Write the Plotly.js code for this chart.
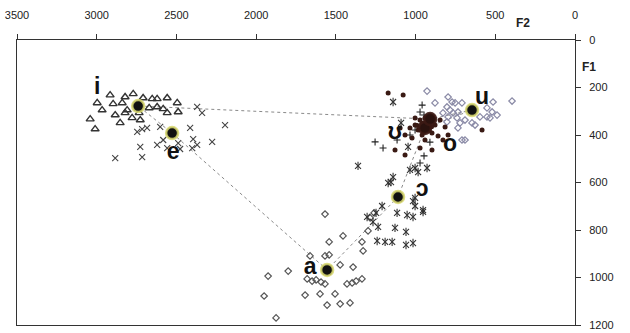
<!DOCTYPE html>
<html>
<head>
<meta charset="utf-8">
<script src="https://cdn.plot.ly/plotly-3.0.1.min.js"></script>
<style>html,body{margin:0;padding:0;background:#fff;}#chart{width:630px;height:333px;}</style>
</head>
<body>
<div id="chart"></div>
<script>
// ---- Data (F2 in Hz on x, F1 in Hz on y) ----
var iF2 = [2916,2822,2771,2997,2897,2840,2966,2884,2822,3041,3010,2853,2778,2709,2652,2621,2558,2671,2583,2495,2489,2727,2734,2621,2558,2809];
var iF1 = [232,240,227,265,269,265,295,316,307,333,375,349,328,244,248,248,244,286,290,265,303,337,307,282,307,295];

var eF2 = [2370,2339,2195,2414,2602,2715,2684,2727,2884,2715,2621,2583,2489,2395,2370,2401,2276,2746,2558,2477];
var eF1 = [282,307,358,370,366,375,370,450,497,493,442,421,434,417,442,455,429,387,455,459];

var aF2 = [1568,1542,1455,1662,1568,1542,1473,1392,1336,1298,1329,1925,1799,1680,1649,1624,1593,1568,1430,1398,1373,1336,1950,1693,1599,1505,1555,1473,1411,1875,1285,1260];
var aF1 = [733,850,825,909,909,905,947,956,850,804,888,994,973,1006,1015,1010,1019,1027,1027,1023,1015,1006,1078,1074,1069,1069,1116,1111,1107,1170,749,728];

var oOpenF2 = [1154,1210,1304,1248,1267,1235,1116,1053,1016,953,1003,1016,1129,1060,1241,1191,1147,1060,1016,1003,928,984,1141,1172,1003,953,1361,1035,1141,1091,1047];
var oOpenF1 = [598,699,745,728,766,787,728,737,745,724,699,678,791,808,846,850,850,863,855,539,539,556,577,602,665,716,530,547,261,349,450];

var upsF2 = [1254,1204,959,972,947,947,972,1003,1035,1116,910];
var upsF1 = [429,455,274,303,316,488,518,379,400,421,430];

var oF2 = [1003,972,941,909,878,922,984,1035,846,815,959,897,859,1022,1066,941,796,828,1097,1003,972,897,1129,1066,1172,1078,583,960,930,900,950,990,915];
var oF1 = [358,337,328,345,358,370,379,370,337,366,400,392,404,413,400,421,400,421,370,328,455,463,463,484,223,232,379,350,355,365,385,360,380];

var uF2 = [928,878,796,771,752,709,803,784,765,734,740,721,690,646,627,514,395,552,520,489,552,533,596,734,796,828,803,690,709];
var uF1 = [215,265,240,261,265,265,282,295,307,303,328,349,337,349,358,261,257,286,303,316,324,328,324,370,324,307,345,421,421];

// vowel means
var meanVowels = ['i','e','a','ɔ','o','u','ʊ'];
var meanF2 = [2740,2527,1555,1110,941,646,909];
var meanF1 = [278,392,968,661,370,295,333];

// connecting path (by vowel)
var pathOrder = ['ʊ','i','e','a','ɔ','o','u','ʊ'];

// vowel labels
var labelText = ['i','e','a','ɔ','ʊ','o','u'];
var labelF2 = [2997,2521,1662,959,1129,784,583];
var labelF1 = [202,476,960,632,392,442,244];

// ---- Build ----
var pathF2 = pathOrder.map(function(v){return meanF2[meanVowels.indexOf(v)];});
var pathF1 = pathOrder.map(function(v){return meanF1[meanVowels.indexOf(v)];});
var haloColors = meanVowels.map(function(v){
  return (v==='o'||v==='ʊ') ? 'rgba(60,25,20,0.9)' : 'rgba(215,215,110,0.85)';
});
var meanColors = meanVowels.map(function(v){ return (v==='o'||v==='ʊ') ? '#2a120e' : '#111'; });

function sc(x,y,sym,size,color,w){
  return {type:'scatter',mode:'markers',x:x,y:y,hoverinfo:'skip',
    marker:{symbol:sym,size:size,color:color,line:{color:color,width:w}}};
}
var traces = [
  {type:'scatter',mode:'lines',x:pathF2,y:pathF1,line:{color:'#8a8a8a',width:1,dash:'dot'},hoverinfo:'skip'},
  sc(iF2,iF1,'triangle-up-open',7,'#333',1.4),
  sc(eF2,eF1,'x-thin-open',6,'#444',1.1),
  sc(aF2,aF1,'diamond-open',5,'#555',1.2),
  // star marker = x + vertical bar
  sc(oOpenF2,oOpenF1,'x-thin-open',6,'#333',1.1),
  sc(oOpenF2,oOpenF1,'line-ns-open',6,'#333',1.1),
  sc(uF2,uF1,'diamond-open',5,'#8a8aa6',1.2),
  sc(upsF2,upsF1,'cross-thin-open',5,'#222',1.1),
  {type:'scatter',mode:'markers',x:oF2,y:oF1,hoverinfo:'skip',marker:{symbol:'circle',size:5,color:'#3a1a14'}},
  {type:'scatter',mode:'markers',x:meanF2,y:meanF1,hoverinfo:'skip',
    marker:{symbol:'circle',size:12,color:meanColors,line:{color:haloColors,width:2.5}}},
  {type:'scatter',mode:'text',x:labelF2,y:labelF1,text:labelText,hoverinfo:'skip',
    textfont:{family:'Liberation Sans, Arial, DejaVu Sans',size:23,color:'#111',weight:'bold'}}
];

var axFont = {family:'Liberation Sans, Arial, sans-serif',size:11,color:'#222'};
var layout = {
  width:630,height:333,
  margin:{l:17,r:55,t:40,b:8},
  paper_bgcolor:'#fff',plot_bgcolor:'#fff',
  showlegend:false,
  xaxis:{range:[3500,0],side:'top',dtick:500,tick0:0,ticks:'outside',ticklen:5,tickcolor:'#333',
    showline:true,linecolor:'#333',linewidth:1,mirror:true,showgrid:false,zeroline:false,
    tickfont:axFont,ticklabelstandoff:11},
  yaxis:{range:[1200,0],side:'right',dtick:200,tick0:0,ticks:'outside',ticklen:5,tickcolor:'#333',
    showline:true,linecolor:'#333',linewidth:1,mirror:true,showgrid:false,zeroline:false,
    tickfont:axFont,ticklabelstandoff:6},
  annotations:[
    {xref:'paper',yref:'paper',x:(532-17)/558,y:(325-14)/285,text:'<b>F2</b>',showarrow:false,
      font:{family:'Liberation Sans, Arial',size:12,color:'#222'}},
    {xref:'paper',yref:'paper',x:(598-17)/558,y:(325-58)/285,text:'<b>F1</b>',showarrow:false,
      font:{family:'Liberation Sans, Arial',size:12,color:'#222'}}
  ]
};
Plotly.newPlot('chart',traces,layout,{displayModeBar:false,staticPlot:true});
</script>
</body>
</html>
